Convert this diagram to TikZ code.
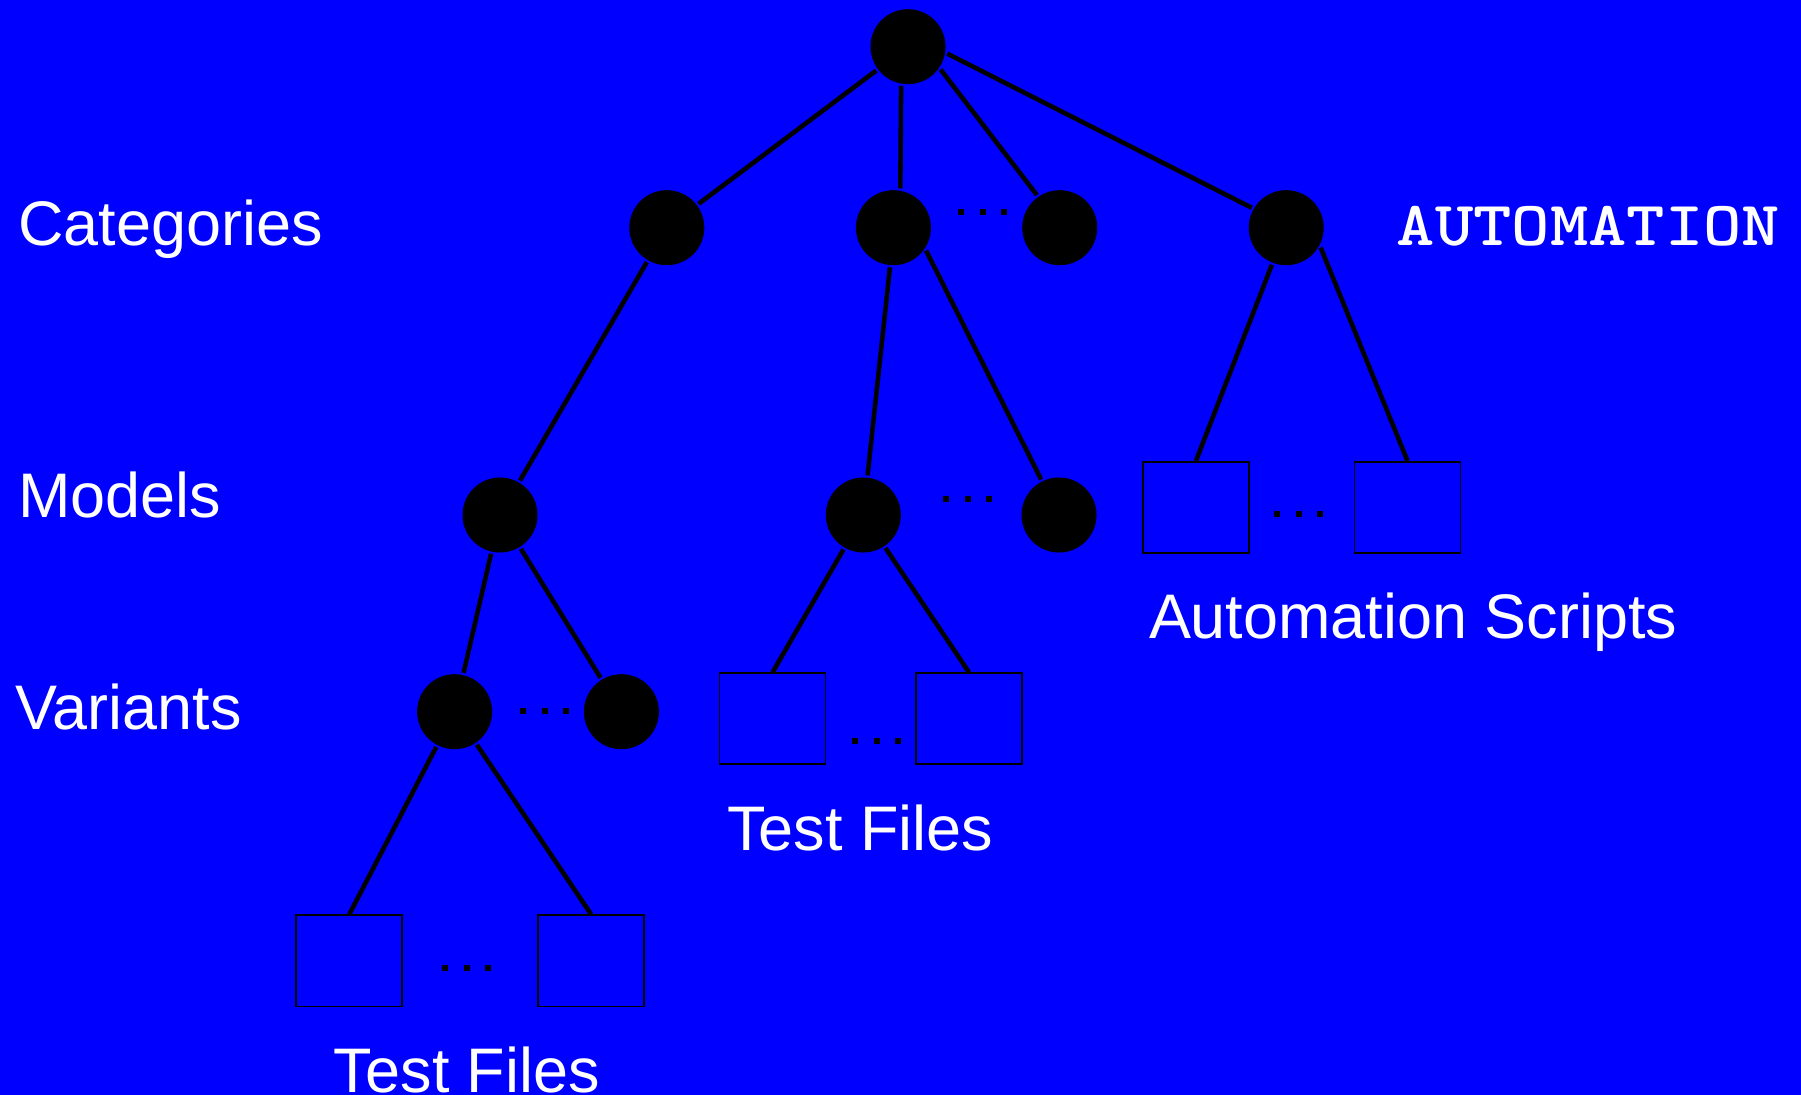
\documentclass[tikz,border=0pt]{standalone}
\usepackage{fontspec}
\setmainfont{Liberation Sans}
\usepackage{tikz}
\definecolor{bgblue}{RGB}{0,0,255}
\tikzset{
	every picture/.style={
		x=0.01cm,y=-0.01cm,
		line width=1.3pt
}}
\tikzstyle{treenode}=[circle,
fill=black,
inner sep=0pt,
minimum size=0.75cm]
\tikzstyle{filebox}=[rectangle,
draw=black,
line width=0.45pt,
inner sep=0pt,
minimum width=1.06cm,
minimum height=0.91cm]
\tikzstyle{levellabel}=[anchor=base west,
inner sep=0pt,
text=white,
font=\fontsize{17.9}{21}\selectfont]

\begin{document}
\begin{tikzpicture}
\def\gap{21.5}%dot spacing
\def\sq{3}%half size of a dot
%background
\fill[bgblue] (0,0) rectangle (1801,1095);
\useasboundingbox (0,0) rectangle (1801,1095);

%row labels
\node[levellabel] (lcat) at (16,245.7) {Categories};
\node[levellabel] (lmod) at (16,517.7) {Models};
\node[levellabel] (lvar) at (13.3,729.3) {Variants};
\node[levellabel,xscale=1.16,font=\fontsize{17.9}{21}\selectfont\ttfamily\bfseries] (lauto) at (1394,245.7) {AUTOMATION};

%root and categories
\node[treenode] (root) at (908,46.7) {};
\node[treenode] (c1) at (666.8,227.7) {};
\node[treenode] (c2) at (893.4,227.7) {};
\node[treenode] (c3) at (1059.7,227.7) {};
\node[treenode] (c4) at (1286.2,227.7) {};

%models
\node[treenode] (m1) at (500,515) {};
\node[treenode] (m2) at (863.3,515) {};
\node[treenode] (m3) at (1059,515) {};

%variants
\node[treenode] (v1) at (454.6,711.7) {};
\node[treenode] (v2) at (621.4,711.7) {};

%files and scripts
\node[filebox] (tfa) at (772.5,718.7) {};
\node[filebox] (tfb) at (969,718.7) {};
\node[filebox] (as1) at (1195.9,507.3) {};
\node[filebox] (as2) at (1407.5,507.3) {};
\node[filebox] (tf1) at (349.2,960.8) {};
\node[filebox] (tf2) at (591.2,960.8) {};

\node[levellabel] (ltfa) at (725,850.7) {Test Files};
\node[levellabel] (lscr) at (1146.7,638.3) {Automation Scripts};
\node[levellabel] (ltfb) at (331.7,1092) {Test Files};

%edges
\draw (root) -- (c1);
\draw (root.-100) -- (c2.80);
\draw (root.-35) -- (c3.125);
\draw (root.-10) -- (c4.150);
\draw (c1) -- (m1);
\draw (c2.-95) -- (m2);
\draw (c2.-35) -- (m3);
\draw (c4) -- (as1.north);
\draw (c4.-30) -- (as2.north);
\draw (m1) -- (v1);
\draw (m1) -- (v2);
\draw (m2) -- (tfa.north);
\draw (m2) -- (tfb.north);
\draw (v1) -- (tf1.north);
\draw (v1) -- (tf2.north);

%dots between siblings
\foreach \x/\y in {961/212,946/499,523/711,855/741,1277/514,445/968}
\foreach \k in {0,1,2}
\fill ({\x+\k*\gap-\sq},{\y-\sq}) rectangle ++(2*\sq,2*\sq);

\end{tikzpicture}
\end{document}
